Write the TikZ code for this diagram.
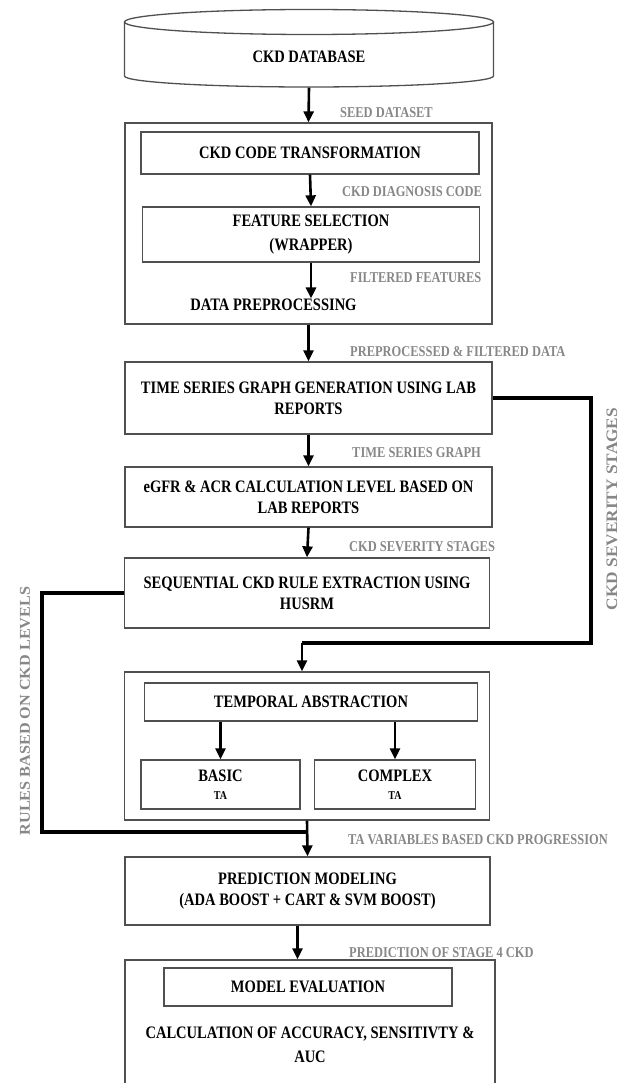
\documentclass[tikz,border=0pt]{standalone}
\usepackage{fontspec}
\setmainfont{Liberation Serif}[FakeStretch=0.83]
\newfontfamily\vertfont{Liberation Serif}[FakeStretch=1.08]
\usetikzlibrary{arrows.meta}
\definecolor{boxgray}{RGB}{80,80,80}
\definecolor{lblgray}{RGB}{135,135,135}
\begin{document}
\begin{tikzpicture}[x=1pt,y=-1pt,
	box/.style={draw=boxgray,line width=1.3pt,align=center,inner sep=0pt,font=\fontsize{17.5}{21}\selectfont\bfseries},
	lbl/.style={lblgray,anchor=west,inner sep=0pt,font=\fontsize{15}{18}\selectfont\bfseries},
	vlbl/.style={lblgray,rotate=90,inner sep=0pt,font=\vertfont\fontsize{#1}{18}\selectfont\bfseries},
	flow/.style={line width=2.6pt,-{Triangle[width=10pt,length=11pt]}},
	link/.style={line width=3.6pt}]
	\useasboundingbox (0,0) rectangle (624,1083);
	\draw[boxgray,line width=1.3pt] (124.5,22) -- (124.5,76) arc[start angle=180,end angle=0,x radius=184.5,y radius=11] -- (493.5,22);
	\draw[boxgray,line width=1.3pt] (309,22) ellipse[x radius=184.5,y radius=12.5];
	\node[box,draw=none,minimum height=60pt] (db) at (309,57) {CKD DATABASE};
	\node[box,minimum width=367pt,minimum height=201pt] (stage1) at (308.5,223.5) {};
	\node[box,minimum width=338pt,minimum height=42pt] (codetr) at (310,153) {CKD CODE TRANSFORMATION};
	\node[box,minimum width=337pt,minimum height=55pt] (featsel) at (311,234.5) {FEATURE SELECTION\\[3pt](WRAPPER)};
	\node[box,draw=none] (preproc) at (273.5,305) {DATA PREPROCESSING};
	\node[box,minimum width=367pt,minimum height=72pt] (tsgraph) at (308.5,398) {TIME SERIES GRAPH GENERATION USING LAB\\REPORTS};
	\node[box,minimum width=367pt,minimum height=60pt] (egfr) at (308.5,497) {eGFR \& ACR CALCULATION LEVEL BASED ON\\LAB REPORTS};
	\node[box,minimum width=364.5pt,minimum height=70pt] (seqrule) at (307,593) {SEQUENTIAL CKD RULE EXTRACTION USING\\HUSRM};
	\node[box,minimum width=364.5pt,minimum height=148pt] (stage2) at (307,746) {};
	\node[box,minimum width=333.5pt,minimum height=38pt] (tempab) at (311,702) {TEMPORAL ABSTRACTION};
	\node[box,minimum width=159pt,minimum height=49pt] (basic) at (220.5,784.5) {BASIC\\[-3pt]{\fontsize{12}{14}\selectfont TA}};
	\node[box,minimum width=161.5pt,minimum height=49pt] (complex) at (395,784.5) {COMPLEX\\[-3pt]{\fontsize{12}{14}\selectfont TA}};
	\node[box,minimum width=365pt,minimum height=68pt] (predmod) at (307.5,891) {PREDICTION MODELING\\(ADA BOOST + CART \& SVM BOOST)};
	\node[box,minimum width=370pt,minimum height=150pt] (stage3) at (310,1035) {};
	\node[box,minimum width=288pt,minimum height=38pt] (modeval) at (308,987) {MODEL EVALUATION};
	\node[box,draw=none] (calc) at (310,1045) {CALCULATION OF ACCURACY, SENSITIVTY \&\\[3pt]AUC};
	\node[lbl] (seedlbl) at (340,113) {SEED DATASET};
	\node[lbl] (codelbl) at (342,192) {CKD DIAGNOSIS CODE};
	\node[lbl] (filtlbl) at (350,278) {FILTERED FEATURES};
	\node[lbl] (prelbl) at (350,352) {PREPROCESSED \& FILTERED DATA};
	\node[lbl] (tsglbl) at (352,453) {TIME SERIES GRAPH};
	\node[lbl] (sevlbl) at (349,547) {CKD SEVERITY STAGES};
	\node[lbl] (talbl) at (348,840) {TA VARIABLES BASED CKD PROGRESSION};
	\node[lbl] (predlbl) at (349,953) {PREDICTION OF STAGE 4 CKD};
	\node[vlbl=16] (sevside) at (612,509) {CKD SEVERITY STAGES};
	\node[vlbl=15] (ruleside) at (25,711) {RULES BASED ON CKD LEVELS};
	\coordinate (sevturn) at (591,643);
	\coordinate (sevdrop) at (302,643);
	\coordinate (ruleturn) at (42,832);
	\draw[flow] (db.south) -- (stage1.north);
	\draw[flow] (codetr.south) -- (featsel.north);
	\draw[flow] (featsel.south) -- (featsel.south |- preproc.north);
	\draw[flow] (stage1.south) -- (tsgraph.north);
	\draw[flow] (tsgraph.south) -- (egfr.north);
	\draw[flow] (egfr.south) -- (seqrule.north);
	\draw[link] (tsgraph.east) -| (sevturn) -- (sevdrop);
	\draw[flow] (sevdrop) -- (sevdrop |- stage2.north);
	\draw[flow] (basic.north |- tempab.south) -- (basic.north);
	\draw[flow] (complex.north |- tempab.south) -- (complex.north);
	\draw[link] (seqrule.west) -| (ruleturn) -- (stage2.south |- ruleturn);
	\draw[flow] (stage2.south) -- (predmod.north);
	\draw[flow] ([xshift=-10pt]predmod.south) -- ([xshift=-10pt]predmod.south |- stage3.north);
\end{tikzpicture}
\end{document}
